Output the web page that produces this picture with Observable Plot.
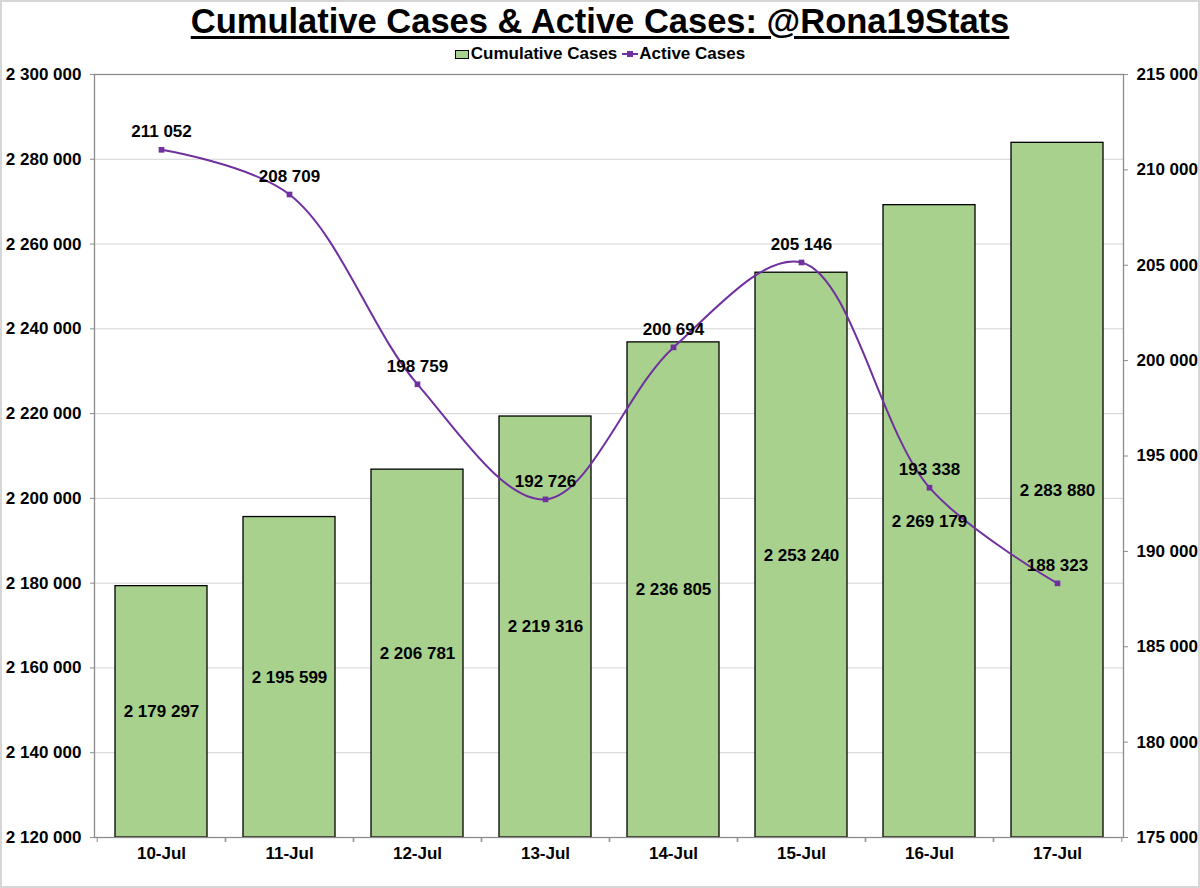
<!DOCTYPE html>
<html>
<head>
<meta charset="utf-8">
<script src="https://cdn.jsdelivr.net/npm/d3@7"></script>
<script src="https://cdn.jsdelivr.net/npm/@observablehq/plot@0.6"></script>
<style>
  html, body { margin: 0; padding: 0; background: #fff; }
  #wrap { position: relative; width: 1200px; height: 888px; overflow: hidden; background: #fff; }
  #border { position: absolute; left: 0; top: 0; width: 1200px; height: 888px; box-sizing: border-box; border: 2px solid #d6d6d6; pointer-events: none; }
  #title { position: absolute; left: 0; top: 1px; width: 1200px; text-align: center;
    font: bold 34.5px/40px "Liberation Sans", Arial, sans-serif;
    text-decoration: underline; text-decoration-thickness: 3px; text-underline-offset: 3px; color: #000; }
  #legend { position: absolute; left: 0; top: 44px; width: 1200px; display: flex; justify-content: center; align-items: center;
    font: bold 17px/20px "Liberation Sans", Arial, sans-serif; color: #000; }
  .sw-bar { width: 12px; height: 7px; background: #A9D18E; border: 1px solid #000; margin-right: 2px; }
  .sw-line { position: relative; width: 16px; height: 10px; margin-left: 5px; margin-right: 1px; }
  .sw-line::before { content: ""; position: absolute; left: 0; top: 4px; width: 16px; height: 2px; background: #7030A0; }
  .sw-line::after { content: ""; position: absolute; left: 5px; top: 2px; width: 6px; height: 6px; background: #7030A0; }
  #chart { position: absolute; left: 0; top: 0; }
</style>
</head>
<body>
<div id="wrap">
  <div id="chart"></div>
  <div id="title">Cumulative Cases &amp; Active Cases: @Rona19Stats</div>
  <div id="legend"><span class="sw-bar"></span><span>Cumulative Cases</span><span class="sw-line"></span><span>Active Cases</span></div>
  <div id="border"></div>
</div>
<script>
// Daily figures, 10–17 July
const dates = ["10-Jul", "11-Jul", "12-Jul", "13-Jul", "14-Jul", "15-Jul", "16-Jul", "17-Jul"];
const cumulativeCases = [2179297, 2195599, 2206781, 2219316, 2236805, 2253240, 2269179, 2283880];
const activeCases = [211052, 208709, 198759, 192726, 200694, 205146, 193338, 188323];

// Axis ticks: left (cumulative) and right (active)
const leftTicks = [2120000, 2140000, 2160000, 2180000, 2200000, 2220000, 2240000, 2260000, 2280000, 2300000];
const rightTicks = [175000, 180000, 185000, 190000, 195000, 200000, 205000, 210000, 215000];

const L0 = leftTicks[0], L1 = leftTicks[leftTicks.length - 1];
const R0 = rightTicks[0], R1 = rightTicks[rightTicks.length - 1];
// Map active-case values onto the left scale so both share one y scale
const toLeft = v => L0 + (v - R0) * (L1 - L0) / (R1 - R0);
const fromLeft = y => R0 + (y - L0) * (R1 - R0) / (L1 - L0);

const fmt = v => d3.format(",")(Math.round(v)).replace(/,/g, " ");

const rows = dates.map((date, i) => ({date, cum: cumulativeCases[i], active: activeCases[i]}));

const W = 1200, H = 888;
const mL = 94, mR = 77, mT = 74, mB = 51;
const step = (W - mL - mR) / dates.length;
const purple = "#7030A0";

const chart = Plot.plot({
  width: W,
  height: H,
  marginLeft: mL,
  marginRight: mR,
  marginTop: mT,
  marginBottom: mB,
  style: {fontFamily: "'Liberation Sans', Arial, sans-serif", fontSize: "17px", fontWeight: "bold", color: "#000", background: "transparent"},
  x: {domain: dates, padding: 0, label: null},
  y: {domain: [L0, L1], label: null},
  marks: [
    Plot.gridY(leftTicks, {stroke: "#d3d3d3", strokeOpacity: 1}),
    Plot.barY(rows, {x: "date", y1: L0, y2: "cum", fill: "#A9D18E", stroke: "#000", strokeWidth: 1.3, insetLeft: 18, insetRight: 18}),
    Plot.frame({stroke: "#8c8c8c", strokeWidth: 1.3}),
    Plot.axisY(leftTicks, {anchor: "left", tickSize: 4, tickPadding: 9, stroke: "#8c8c8c", tickFormat: fmt, label: null}),
    Plot.axisY(rightTicks.map(toLeft), {anchor: "right", tickSize: 4, tickPadding: 9, stroke: "#8c8c8c", tickFormat: d => fmt(fromLeft(d)), label: null}),
    Plot.axisX({tickSize: 5, stroke: "#8c8c8c", text: null, dx: -step / 2, label: null}),
    Plot.axisX({tickSize: 5, stroke: "#8c8c8c", text: null, dx: step / 2, label: null}),
    Plot.axisX({tickSize: 0, tickPadding: 9, label: null}),
    Plot.line(rows, {x: "date", y: d => toLeft(d.active), curve: "catmull-rom", stroke: purple, strokeWidth: 2}),
    Plot.dot(rows, {x: "date", y: d => toLeft(d.active), symbol: "square", r: 3.2, fill: purple, stroke: "none"}),
    Plot.text(rows, {x: "date", y: d => (L0 + d.cum) / 2, text: d => fmt(d.cum), fill: "#000"}),
    Plot.text(rows, {x: "date", y: d => toLeft(d.active), dy: -18, text: d => fmt(d.active), fill: "#000"})
  ]
});

document.getElementById("chart").appendChild(chart);
</script>
</body>
</html>
